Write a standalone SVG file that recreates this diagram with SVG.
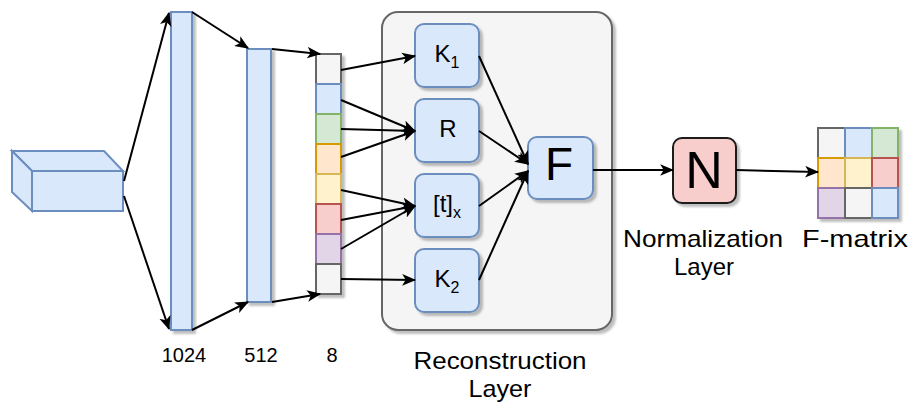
<svg xmlns="http://www.w3.org/2000/svg" width="913" height="409" viewBox="0 0 913 409">
<style>
.blue{fill:#dae8fc;stroke:#6c8ebf;stroke-width:2}
.gray{fill:#f5f5f5;stroke:#666666;stroke-width:2}
.green{fill:#d5e8d4;stroke:#82b366;stroke-width:2}
.orange{fill:#ffe6cc;stroke:#d79b00;stroke-width:2}
.yellow{fill:#fff2cc;stroke:#d6b656;stroke-width:2}
.red{fill:#f8cecc;stroke:#b85450;stroke-width:2}
.purple{fill:#e1d5e7;stroke:#9673a6;stroke-width:2}
.conn{fill:none;stroke:#000;stroke-width:2;marker-end:url(#arr)}
.lbl{font-family:"Liberation Sans",Arial,sans-serif;fill:#000;text-anchor:middle}
.sh{filter:url(#shadow)}
</style>
<defs>
<marker id="arr" viewBox="0 0 12 10" markerWidth="7" markerHeight="6" refX="11" refY="5" orient="auto" markerUnits="strokeWidth">
<path d="M0,0 L12,5 L0,10 L3,5 Z" fill="#000"/>
</marker>
<filter id="shadow" x="-20%" y="-20%" width="150%" height="150%">
<feDropShadow dx="3" dy="3" stdDeviation="1" flood-color="#000" flood-opacity="0.25"/>
</filter>
</defs>
<rect width="913" height="409" fill="#fff"/>

<g id="reconstruction-layer">
<rect class="gray sh" x="382" y="12" width="230" height="318" rx="16"/>
<text class="lbl" x="500" y="369" font-size="24" textLength="173" lengthAdjust="spacingAndGlyphs">Reconstruction</text>
<text class="lbl" x="500" y="397" font-size="24" textLength="63" lengthAdjust="spacingAndGlyphs">Layer</text>
</g>

<g id="input-cube">
<polygon class="blue" points="12,151 104,151 123,171 32,171"/>
<polygon class="blue" points="12,151 32,171 32,211 12,192"/>
<rect class="blue" x="32" y="171" width="91" height="40"/>
</g>

<g id="fc-1024">
<rect class="blue sh" x="171" y="12" width="21" height="318"/>
<text class="lbl" x="184" y="362" font-size="20">1024</text>
</g>

<g id="fc-512">
<rect class="blue sh" x="247" y="49" width="24" height="253"/>
<text class="lbl" x="261" y="362" font-size="20">512</text>
</g>

<g id="vec-8">
<rect class="gray sh" x="316" y="54" width="25" height="240"/>
<rect class="blue" x="316" y="84" width="25" height="30"/>
<rect class="green" x="316" y="114" width="25" height="30"/>
<rect class="orange" x="316" y="144" width="25" height="30"/>
<rect class="yellow" x="316" y="174" width="25" height="30"/>
<rect class="red" x="316" y="204" width="25" height="30"/>
<rect class="purple" x="316" y="234" width="25" height="30"/>
<rect class="gray" x="316" y="264" width="25" height="30"/>
<text class="lbl" x="332" y="362" font-size="20">8</text>
</g>

<g id="node-K1">
<rect class="blue sh" x="415" y="24" width="64" height="63" rx="9"/>
<text class="lbl" x="447" y="62" font-size="24">K<tspan font-size="16" dy="6">1</tspan></text>
</g>
<g id="node-R">
<rect class="blue sh" x="415" y="99" width="64" height="63" rx="9"/>
<text class="lbl" x="448" y="137" font-size="24">R</text>
</g>
<g id="node-tx">
<rect class="blue sh" x="415" y="174" width="64" height="63" rx="9"/>
<text class="lbl" x="447" y="212" font-size="24">[t]<tspan font-size="16" dy="6">x</tspan></text>
</g>
<g id="node-K2">
<rect class="blue sh" x="415" y="249" width="64" height="63" rx="9"/>
<text class="lbl" x="447" y="287" font-size="24">K<tspan font-size="16" dy="6">2</tspan></text>
</g>

<g id="node-F">
<rect class="blue sh" x="528" y="137" width="65" height="62" rx="9"/>
<text class="lbl" x="559" y="180" font-size="46">F</text>
</g>

<g id="node-N">
<rect class="sh" x="673" y="138" width="63" height="65" rx="9" fill="#f8cecc" stroke="#1a1a1a" stroke-width="2"/>
<text class="lbl" x="704" y="188" font-size="52">N</text>
<text class="lbl" x="703" y="247" font-size="24" textLength="160" lengthAdjust="spacingAndGlyphs">Normalization</text>
<text class="lbl" x="704" y="275" font-size="24" textLength="60" lengthAdjust="spacingAndGlyphs">Layer</text>
</g>

<g id="f-matrix">
<rect class="gray sh" x="818" y="128" width="80" height="90"/>
<rect class="gray" x="818" y="128" width="27" height="30"/>
<rect class="blue" x="845" y="128" width="27" height="30"/>
<rect class="green" x="872" y="128" width="26" height="30"/>
<rect class="orange" x="818" y="158" width="27" height="30"/>
<rect class="yellow" x="845" y="158" width="27" height="30"/>
<rect class="red" x="872" y="158" width="26" height="30"/>
<rect class="purple" x="818" y="188" width="27" height="30"/>
<rect class="gray" x="845" y="188" width="27" height="30"/>
<rect class="blue" x="872" y="188" width="26" height="30"/>
<text class="lbl" x="855" y="247" font-size="24" textLength="106" lengthAdjust="spacingAndGlyphs">F-matrix</text>
</g>

<g id="connectors">
<path class="conn" d="M124,181 L169,13"/>
<path class="conn" d="M124,196 L169,329"/>
<path class="conn" d="M192,12 L248,48"/>
<path class="conn" d="M192,330 L248,302"/>
<path class="conn" d="M272,49 L320,54"/>
<path class="conn" d="M272,302 L320,294"/>
<path class="conn" d="M341,70 L415,56"/>
<path class="conn" d="M341,100 L415,131"/>
<path class="conn" d="M341,129 L415,131"/>
<path class="conn" d="M341,157 L415,131"/>
<path class="conn" d="M341,190 L415,206"/>
<path class="conn" d="M341,220 L415,206"/>
<path class="conn" d="M341,249 L415,206"/>
<path class="conn" d="M341,279 L415,280"/>
<path class="conn" d="M479,56 L528,164"/>
<path class="conn" d="M479,131 L528,164"/>
<path class="conn" d="M479,206 L528,171"/>
<path class="conn" d="M479,280 L528,171"/>
<path class="conn" d="M593,170 L673,170"/>
<path class="conn" d="M736,170 L818,172"/>
</g>
</svg>
